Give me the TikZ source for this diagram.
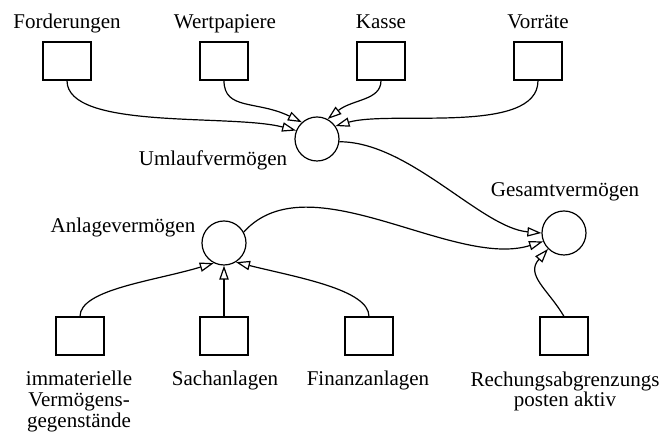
\documentclass[tikz,border=0pt]{standalone}
\usepackage{fontspec}
\setmainfont{Liberation Serif}
\usetikzlibrary{arrows.meta}
\begin{document}
\begin{tikzpicture}[x=0.75pt,y=-0.75pt,
  box/.style={draw, line width=0.9pt, minimum width=36pt, minimum height=28.5pt, inner sep=0pt},
  circ/.style={draw, circle, line width=0.9pt, minimum size=33pt, inner sep=0pt},
  lbl/.style={font=\fontsize{15.75pt}{15.5pt}\selectfont, inner sep=0pt, anchor=base},
  flow/.style={line width=0.9pt, -{Triangle[fill=white, length=10.5pt, width=7pt]}},
]
\useasboundingbox (0,0) rectangle (662,434);
% boxes top
\node[box] (F) at (67,61) {};
\node[box] (W) at (224,61) {};
\node[box] (K) at (381,61) {};
\node[box] (V) at (538,61) {};
% circles
\node[circ] (U) at (317,139) {};
\node[circ] (G) at (564,233) {};
\node[circ] (A) at (224,243) {};
% boxes bottom
\node[box] (I) at (80,336) {};
\node[box] (S) at (224,336) {};
\node[box] (Fi) at (369,336) {};
\node[box] (R) at (564,336) {};
% labels
\node[lbl] (lF) at (67,29) {Forderungen};
\node[lbl] (lW) at (225,29) {Wertpapiere};
\node[lbl] (lK) at (381,29) {Kasse};
\node[lbl] (lV) at (538,29) {Vorräte};
\node[lbl] (lU) at (213,166) {Umlaufvermögen};
\node[lbl] (lG) at (565,197) {Gesamtvermögen};
\node[lbl] (lA) at (123,233) {Anlagevermögen};
\node[lbl, align=center] (lI) at (79,427.3) {immaterielle\\Vermögens-\\gegenstände};
\node[lbl] (lS) at (225,386) {Sachanlagen};
\node[lbl] (lFi) at (368,386) {Finanzanlagen};
\node[lbl, align=center] (lR) at (565,406.7) {Rechungsabgrenzungs\\posten aktiv};
% connectors
\draw[flow] (F.south) .. controls +(0,50) and +(-65,-17) .. (U.158);
\draw[flow] (W.south) .. controls +(0,30) and +(-45,-22) .. (U.132);
\draw[flow] (K.south) .. controls +(0,20) and +(25,-20) .. (U.62);
\draw[flow] (V.south) .. controls +(0,55) and +(55,-16) .. (U.35);
\draw[flow] (U.-7) .. controls +(70,0) and +(-60,-5) .. (G.180);
\draw[flow] (A.29) .. controls +(65,-72) and +(-90,28) .. (G.202);
\draw[flow] (R.north) .. controls +(-16,-27) and +(-23,26) .. (G.225);
\draw[flow] (I.north) .. controls +(0,-27) and +(-60,18) .. (A.243);
\draw[flow] (S.north) -- (A.south);
\draw[flow] (Fi.north) .. controls +(0,-27) and +(60,15) .. (A.-58);
\end{tikzpicture}
\end{document}
